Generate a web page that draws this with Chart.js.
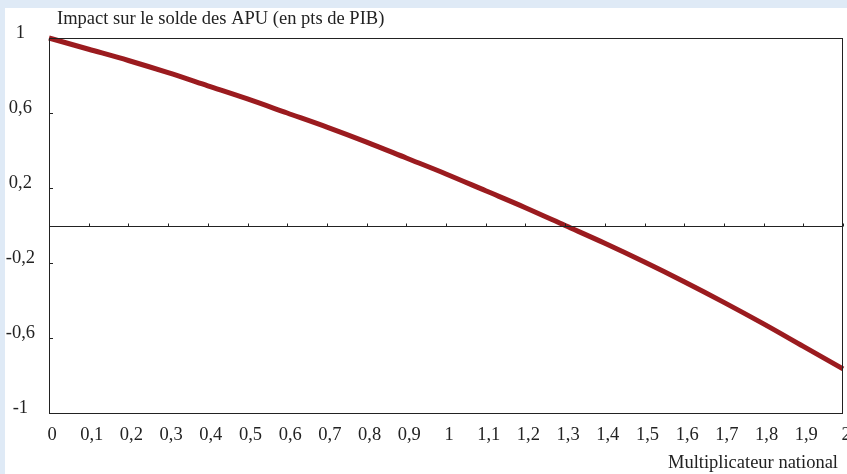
<!DOCTYPE html>
<html>
<head>
<meta charset="utf-8">
<script src="https://cdn.jsdelivr.net/npm/chart.js@4.4.0/dist/chart.umd.min.js"></script>
<style>
  html, body { margin: 0; padding: 0; background: #dfeaf6; }
  #panel { position: absolute; left: 5px; top: 8px; width: 842px; height: 466px; background: #fff; }
</style>
</head>
<body>
<div id="panel"><canvas id="c" width="842" height="466"></canvas></div>
<script>
const multiplier = [0, 0.1, 0.2, 0.3, 0.4, 0.5, 0.6, 0.7, 0.8, 0.9, 1, 1.1, 1.2, 1.3, 1.4, 1.5, 1.6, 1.7, 1.8, 1.9, 2];
const balanceImpact = [1.0, 0.94, 0.88, 0.815, 0.745, 0.675, 0.60, 0.525, 0.445, 0.36, 0.275, 0.185, 0.095, 0.0, -0.095, -0.195, -0.30, -0.41, -0.525, -0.645, -0.765];
const yTickValues = [1, 0.6, 0.2, -0.2, -0.6, -1];
const yTitle = "Impact sur le solde des APU (en pts de PIB)";
const xTitle = "Multiplicateur national";

const FONT = "'Liberation Serif', 'Times New Roman', serif";
const FS = 18.5;
const fmt = v => String(Math.round(v * 10) / 10).replace(".", ",");

// frame, zero line with its ticks, inner y ticks and the two axis titles
const frame = {
  id: "frame",
  afterDatasetsDraw(chart) {
    const { ctx, chartArea: a, scales } = chart;
    ctx.save();
    ctx.strokeStyle = "#222";
    ctx.lineWidth = 1;
    ctx.strokeRect(a.left + 0.5, a.top + 0.5, a.right - a.left - 1, a.bottom - a.top);
    const y0 = Math.round(scales.y.getPixelForValue(0)) + 0.5;
    ctx.beginPath();
    ctx.moveTo(a.left, y0);
    ctx.lineTo(a.right, y0);
    scales.x.ticks.forEach(t => {
      const x = Math.round(scales.x.getPixelForValue(t.value)) + 0.5;
      ctx.moveTo(x, y0);
      ctx.lineTo(x, y0 - 3);
    });
    yTickValues.forEach(v => {
      const y = Math.round(scales.y.getPixelForValue(v)) + 0.5;
      ctx.moveTo(a.left, y);
      ctx.lineTo(a.left + 4, y);
    });
    ctx.stroke();
    ctx.fillStyle = "#222";
    ctx.font = FS + "px " + FONT;
    ctx.textBaseline = "middle";
    ctx.textAlign = "left";
    ctx.fillText(yTitle, a.left + 8, 11);
    ctx.textAlign = "right";
    ctx.fillText(xTitle, a.right - 5, 455);
    ctx.restore();
  }
};

new Chart(document.getElementById("c"), {
  type: "line",
  data: {
    labels: multiplier,
    datasets: [{
      data: multiplier.map((x, i) => ({ x, y: balanceImpact[i] })),
      borderColor: "#9b1b1f",
      borderWidth: 5,
      pointRadius: 0,
      cubicInterpolationMode: "monotone",
      clip: false
    }]
  },
  options: {
    responsive: false,
    animation: false,
    layout: { padding: { top: 30, right: 4, left: 0, bottom: 0 } },
    plugins: { legend: { display: false }, tooltip: { enabled: false } },
    scales: {
      x: {
        type: "linear",
        min: 0,
        max: 2,
        grid: { display: false, drawTicks: false },
        border: { display: false },
        afterFit: s => { s.height = 61; s.paddingRight = 0; s.paddingLeft = 0; },
        ticks: {
          stepSize: 0.1,
          padding: 11,
          labelOffset: 3,
          maxRotation: 0,
          autoSkip: false,
          color: "#222",
          font: { family: FONT, size: FS },
          callback: v => fmt(v)
        }
      },
      y: {
        min: -1,
        max: 1,
        grid: { display: false, drawTicks: false },
        border: { display: false },
        afterBuildTicks: s => { s.ticks = yTickValues.map(value => ({ value })); },
        afterFit: s => { s.width = 44; s.paddingTop = 0; s.paddingBottom = 0; },
        ticks: {
          padding: 14,
          labelOffset: -5,
          crossAlign: "center",
          color: "#222",
          font: { family: FONT, size: FS },
          callback: v => fmt(v)
        }
      }
    }
  },
  plugins: [frame]
});
</script>
</body>
</html>
